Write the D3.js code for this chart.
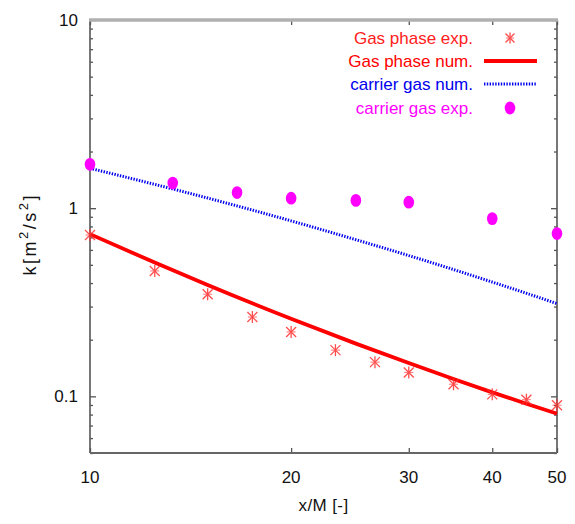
<!DOCTYPE html>
<html>
<head>
<meta charset="utf-8">
<script src="https://cdn.jsdelivr.net/npm/d3@7"></script>
<style>
  html, body { margin: 0; padding: 0; background: #ffffff; }
  svg { display: block; font-family: "Liberation Sans", Arial, Helvetica, sans-serif; }
</style>
</head>
<body>
<svg id="chart" width="575" height="524"></svg>
<script>
// Turbulent kinetic energy k versus downstream distance x/M (log-log)

// Gas phase, experiment (asterisks)
const gasExpX = [10, 12.5, 15, 17.5, 20, 23.3, 26.7, 30, 35, 40, 45, 50];
const gasExpK = [0.72, 0.464, 0.349, 0.264, 0.220, 0.176, 0.152, 0.134, 0.116, 0.1025, 0.096, 0.0897];

// Gas phase, numerical (solid line)
const gasNumX = [10, 12.5, 15, 20, 25, 30, 35, 40, 45, 50];
const gasNumK = [0.728, 0.514, 0.391, 0.2585, 0.1906, 0.1503, 0.1236, 0.105, 0.0914, 0.0809];

// Carrier gas, numerical (dotted line)
const carNumX = [10, 15, 20, 25, 30, 35, 40, 45, 50];
const carNumK = [1.63, 1.132, 0.856, 0.680, 0.560, 0.472, 0.405, 0.353, 0.311];

// Carrier gas, experiment (filled dots)
const carExpX = [10, 13.3, 16.6, 20, 25, 30, 40, 50];
const carExpK = [1.71, 1.36, 1.21, 1.13, 1.10, 1.076, 0.88, 0.733];

// Axis ticks
const xTicks = [10, 20, 30, 40, 50];
const yMajorTicks = [0.1, 1, 10];
const yTickLabels = ["0.1", "1", "10"];

// Legend entries
const legendLabels = ["Gas phase exp.", "Gas phase num.", "carrier gas num.", "carrier gas exp."];
const legendColors = ["#ff2020", "#ff0000", "#0000ee", "#ff00ff"];

const svg = d3.select("#chart");
const L = 90, R = 557, T = 20, B = 453;

const x = d3.scaleLog().domain([10, 50]).range([L, R]);
const y = d3.scaleLog().domain([0.05, 10]).range([B, T]);

const axisColor = "#555";

// minor y ticks (2..9 within each decade)
const yMinor = [];
for (const dec of [0.01, 0.1, 1]) {
  for (let m = 2; m <= 9; m++) {
    const v = +(dec * m).toPrecision(3);
    if (v >= 0.05 && v <= 10) yMinor.push(v);
  }
}

// Left and right axes, ticks pointing inward
const leftAxisMajor = d3.axisRight(y).tickValues(yMajorTicks).tickSize(6).tickFormat("");
const leftAxisMinor = d3.axisRight(y).tickValues(yMinor).tickSize(3).tickFormat("");
const rightAxisMajor = d3.axisLeft(y).tickValues(yMajorTicks).tickSize(6).tickFormat("");
const rightAxisMinor = d3.axisLeft(y).tickValues(yMinor).tickSize(3).tickFormat("");
const bottomAxis = d3.axisTop(x).tickValues(xTicks).tickSize(5).tickFormat("");
const topAxis = d3.axisBottom(x).tickValues(xTicks).tickSize(5).tickFormat("");

function styleAxis(g) {
  g.select(".domain").remove();
  g.selectAll(".tick line").attr("stroke", axisColor).attr("stroke-width", 1.3);
}

svg.append("g").attr("transform", `translate(${L},0)`).call(leftAxisMajor).call(styleAxis);
svg.append("g").attr("transform", `translate(${L},0)`).call(leftAxisMinor).call(styleAxis);
svg.append("g").attr("transform", `translate(${R},0)`).call(rightAxisMajor).call(styleAxis);
svg.append("g").attr("transform", `translate(${R},0)`).call(rightAxisMinor).call(styleAxis);
svg.append("g").attr("transform", `translate(0,${B})`).call(bottomAxis).call(styleAxis);
svg.append("g").attr("transform", `translate(0,${T})`).call(topAxis).call(styleAxis);

// Frame
svg.append("line").attr("x1", L).attr("x2", L).attr("y1", T).attr("y2", B)
  .attr("stroke", axisColor).attr("stroke-width", 1.6);
svg.append("line").attr("x1", R).attr("x2", R).attr("y1", T).attr("y2", B)
  .attr("stroke", axisColor).attr("stroke-width", 1.6);
svg.append("line").attr("x1", L).attr("x2", R).attr("y1", B).attr("y2", B)
  .attr("stroke", "#666").attr("stroke-width", 2);
svg.append("line").attr("x1", L - 1).attr("x2", R + 1).attr("y1", T).attr("y2", T)
  .attr("stroke", "#b0b0b0").attr("stroke-width", 3.5);

// Tick labels
svg.append("g").selectAll("text").data(yMajorTicks).join("text")
  .attr("x", 78).attr("y", d => y(d)).attr("dy", "0.36em")
  .attr("text-anchor", "end").attr("font-size", 17).attr("fill", "#111")
  .text((d, i) => yTickLabels[i]);

svg.append("g").selectAll("text").data(xTicks).join("text")
  .attr("x", d => x(d)).attr("y", 483)
  .attr("text-anchor", "middle").attr("font-size", 17).attr("fill", "#111")
  .text(d => d);

// Axis titles
svg.append("text").attr("x", x(Math.sqrt(10 * 50))).attr("y", 511)
  .attr("text-anchor", "middle").attr("font-size", 17).attr("fill", "#111")
  .attr("letter-spacing", 0.4)
  .text("x/M [-]");

const yt = svg.append("text")
  .attr("transform", `translate(36,${(T + B) / 2 - 1}) rotate(-90)`)
  .attr("text-anchor", "middle").attr("font-size", 18).attr("fill", "#111")
  .attr("textLength", 80).attr("lengthAdjust", "spacing");
yt.append("tspan").text("k[m");
yt.append("tspan").attr("dy", -8).attr("font-size", 13).text("2");
yt.append("tspan").attr("dy", 8).text("/s");
yt.append("tspan").attr("dy", -8).attr("font-size", 13).text("2");
yt.append("tspan").attr("dy", 8).text("]");

const plot = svg.append("g");

// Lines
const gasNum = gasNumX.map((v, i) => [v, gasNumK[i]]);
const carNum = carNumX.map((v, i) => [v, carNumK[i]]);
const line = d3.line().x(d => x(d[0])).y(d => y(d[1])).curve(d3.curveMonotoneX);

plot.append("path").attr("d", line(carNum)).attr("fill", "none")
  .attr("stroke", "#0000ee").attr("stroke-width", 3).attr("stroke-dasharray", "1.4,1.4");
plot.append("path").attr("d", line(gasNum)).attr("fill", "none")
  .attr("stroke", "#ff0000").attr("stroke-width", 3.8);

// Asterisk marker
function asterisk(g, cx, cy, s, color) {
  const a = g.append("g").attr("transform", `translate(${cx},${cy})`)
    .attr("stroke", color).attr("stroke-width", 1.3).attr("opacity", 0.85);
  a.append("line").attr("x1", -s).attr("y1", -s).attr("x2", s).attr("y2", s);
  a.append("line").attr("x1", -s).attr("y1", s).attr("x2", s).attr("y2", -s);
  a.append("line").attr("x1", 0).attr("y1", -s * 1.2).attr("x2", 0).attr("y2", s * 1.2);
  a.append("line").attr("x1", -s * 0.9).attr("y1", 0).attr("x2", s * 0.9).attr("y2", 0)
    .attr("stroke-width", 0.8);
}

gasExpX.forEach((v, i) => asterisk(plot, x(v), y(gasExpK[i]), 5, "#ff3030"));

plot.selectAll("ellipse.cexp").data(carExpX).join("ellipse")
  .attr("class", "cexp")
  .attr("cx", d => x(d)).attr("cy", (d, i) => y(carExpK[i]))
  .attr("rx", 5.3).attr("ry", 6.4).attr("fill", "#ff00ff");

// Legend
const legY = [38, 61, 84, 108];
const leg = svg.append("g");
leg.selectAll("text").data(legendLabels).join("text")
  .attr("x", 473).attr("y", (d, i) => legY[i]).attr("dy", "0.36em")
  .attr("text-anchor", "end").attr("font-size", 17)
  .attr("fill", (d, i) => legendColors[i])
  .text(d => d);

asterisk(leg, 510, legY[0], 4.5, "#ff3030");
leg.append("line").attr("x1", 484).attr("x2", 537).attr("y1", legY[1]).attr("y2", legY[1])
  .attr("stroke", "#ff0000").attr("stroke-width", 3.8);
leg.append("line").attr("x1", 484).attr("x2", 537).attr("y1", legY[2]).attr("y2", legY[2])
  .attr("stroke", "#0000ee").attr("stroke-width", 3).attr("stroke-dasharray", "1.4,1.4");
leg.append("ellipse").attr("cx", 510).attr("cy", legY[3]).attr("rx", 5.3).attr("ry", 6.4)
  .attr("fill", "#ff00ff");
</script>
</body>
</html>
